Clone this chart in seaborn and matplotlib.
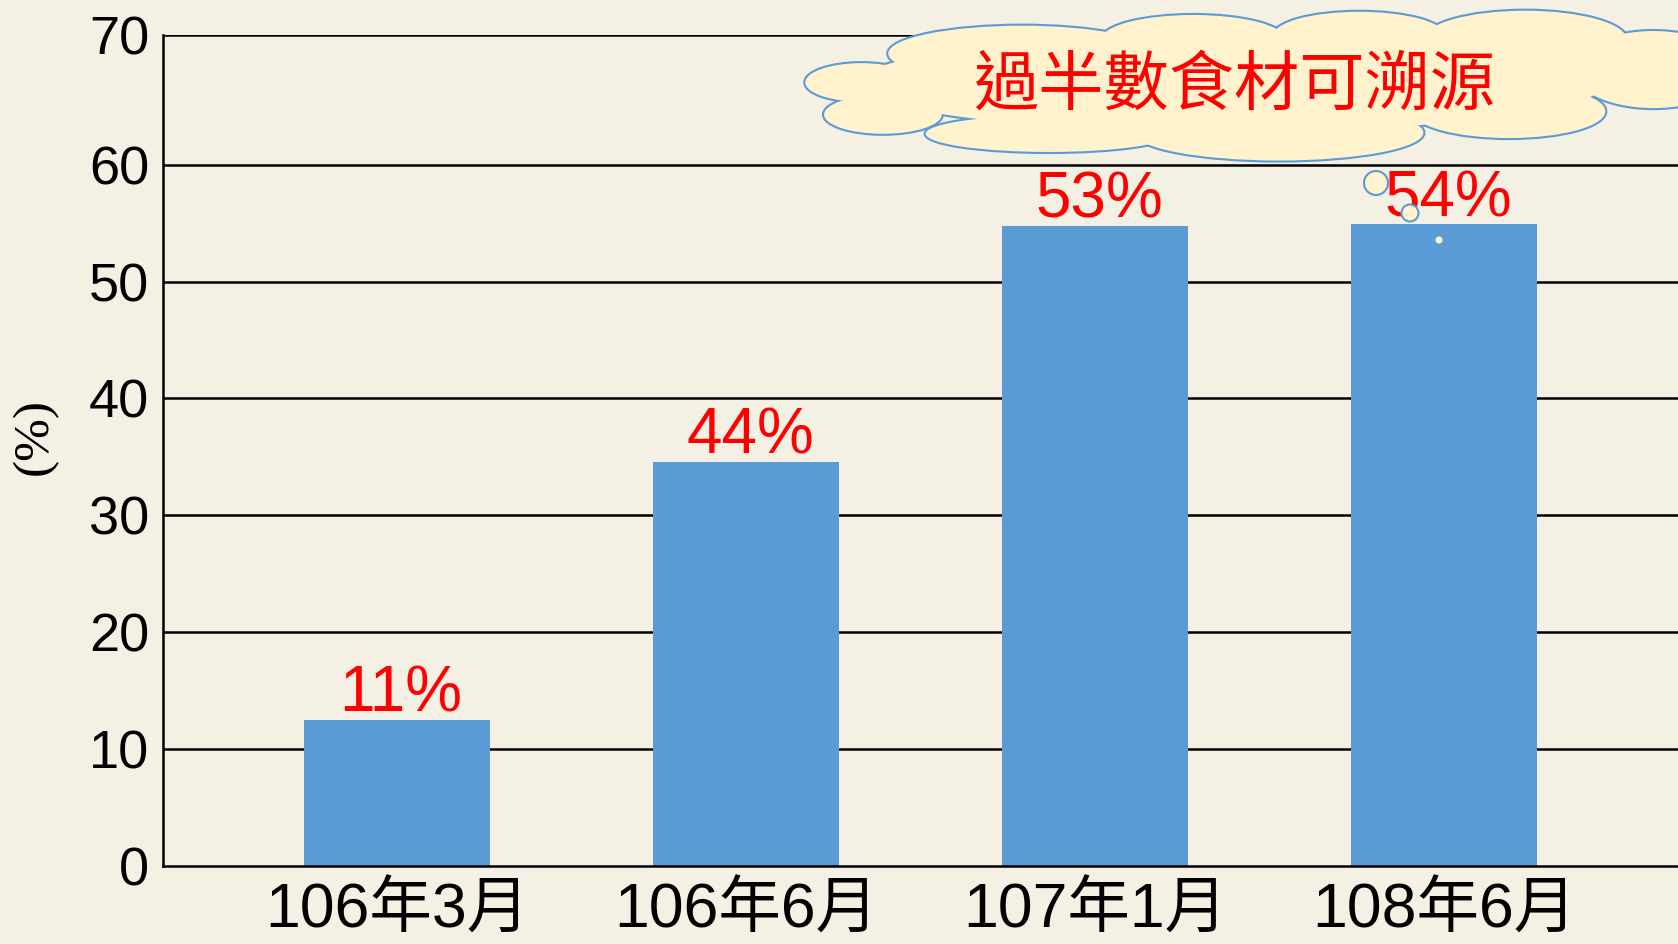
import matplotlib
matplotlib.use("Agg")
import matplotlib.pyplot as plt
import seaborn as sns
from matplotlib.patches import Ellipse

# ---- data ----
categories = ["106年3月", "106年6月", "107年1月", "108年6月"]
values = [12.5, 34.6, 54.8, 54.9]
value_labels = ["11%", "44%", "53%", "54%"]
ytick_labels = ["0", "10", "20", "30", "40", "50", "60", "70"]
callout_text = "過半數食材可溯源"

sns.set_theme(style="white")
plt.rcParams["font.family"] = ["Liberation Sans", "Noto Sans CJK TC", "DejaVu Sans"]

W, H = 1678, 944
BG = "#F4F0E4"
BAR = "#5B9BD5"
fig = plt.figure(figsize=(W / 100, H / 100), dpi=100, facecolor=BG)
ax = fig.add_axes([163 / W, 78 / H, 1 - 163 / W, (866 - 35) / H])
ax.set_facecolor(BG)

sns.barplot(x=categories, y=values, color=BAR, saturation=1, width=0.534, ax=ax,
            zorder=3, edgecolor=BAR, linewidth=0)

top = 71.1
ax.set_ylim(0, top)
ax.set_xlim(-0.67, 3.67)
yt = [0, 10, 20, 30, 40, 50, 60, top]
ax.set_yticks(yt)
ax.set_yticklabels(ytick_labels)
ax.set_axisbelow(True)
for y in yt[1:]:
    ax.axhline(y, color="black", lw=1.8, zorder=1)
for s in ["top", "right"]:
    ax.spines[s].set_visible(False)
for s in ["left", "bottom"]:
    ax.spines[s].set_color("black")
    ax.spines[s].set_linewidth(1.8)
    ax.spines[s].set_zorder(4)
ax.tick_params(axis="y", length=0, pad=10, labelsize=39, colors="black")
ax.tick_params(axis="x", length=0, pad=11, labelsize=45, colors="black")
ax.set_xlabel("")
ax.set_ylabel("")

# value labels
for i, (v, lab) in enumerate(zip(values, value_labels)):
    ax.annotate(lab, (i, v), xytext=(3, 6), textcoords="offset points",
                ha="center", va="baseline", color="#FF0000", fontsize=46, zorder=5)

fig.text(35 / W, 1 - 437 / H, "(%)", rotation=90, ha="center", va="center",
         fontsize=37, family=["Liberation Serif", "DejaVu Serif"], color="black")

# cloud callout (decoration)
s = 1.0702
cloud = [(955, 50, 250, 52), (1115, 36, 170, 44), (1270, 33, 160, 44), (1425, 37, 190, 54),
         (1545, 65, 150, 72), (805, 77, 105, 36), (825, 107, 110, 36), (980, 125, 230, 34),
         (1195, 124, 270, 52), (1410, 104, 180, 50), (1150, 78, 700, 90)]
LINE = "#5B9BD5"
FILL = "#FFF2CC"
for (cx, cy, w, h) in cloud:
    fig.add_artist(Ellipse((cx * s / W, 1 - cy * s / H), w * s / W, h * s / H,
                           transform=fig.transFigure, facecolor=FILL, edgecolor=LINE,
                           lw=3, zorder=10))
for (cx, cy, w, h) in cloud:
    fig.add_artist(Ellipse((cx * s / W, 1 - cy * s / H), w * s / W, h * s / H,
                           transform=fig.transFigure, facecolor=FILL, edgecolor="none",
                           zorder=11))
fig.text(1234 / W, 1 - 86 / H, callout_text, ha="center", va="center", color="#FF0000",
         fontsize=47, family=["Noto Sans CJK TC"], fontweight="light", zorder=12)

# thought-bubble circles
for (cx, cy, r, ec) in [(1376, 183, 12, LINE), (1410, 213, 8.5, LINE), (1439, 240, 2.5, FILL)]:
    fig.add_artist(Ellipse((cx / W, 1 - cy / H), 2 * r / W, 2 * r / H,
                           transform=fig.transFigure, facecolor=FILL, edgecolor=ec,
                           lw=1.5, zorder=13))

fig.savefig("out.png", dpi=100, facecolor=BG)
